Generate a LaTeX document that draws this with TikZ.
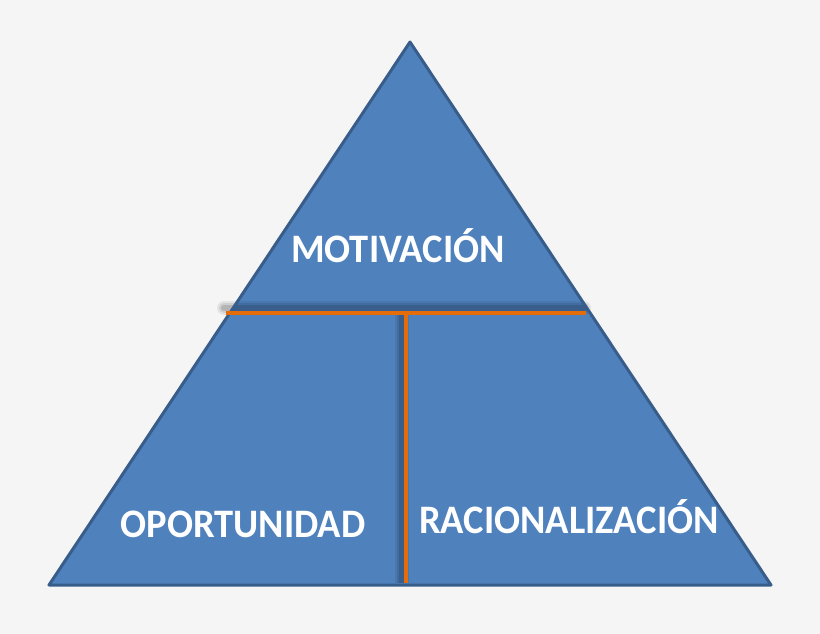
\documentclass[tikz,border=0pt]{standalone}
\usepackage{fontspec}
\setmainfont{Carlito}
\definecolor{bg}{HTML}{F5F5F5}
\definecolor{tfill}{HTML}{4F81BD}
\definecolor{tline}{HTML}{385D8A}
\definecolor{orng}{HTML}{E46C0A}
\tikzset{
  lbl/.style={text=white, font=\fontsize{38.5}{42}\selectfont\bfseries, anchor=base, inner sep=0pt, yscale=1.05},
  divider/.style={draw=orng, line width=4.5pt},
  shade/.style={draw=black, line cap=round}
}
\begin{document}
\begin{tikzpicture}[x=1pt,y=-1pt]
\useasboundingbox[fill=bg] (0,0) rectangle (820,634);
\coordinate (apex) at (410,42);
\coordinate (bl) at (49,585);
\coordinate (br) at (771,585);
\fill[tfill] (apex) -- (br) -- (bl) -- cycle;
% shadows
\coordinate (hl) at (226,313);
\coordinate (hr) at (586,313);
\coordinate (vt) at (406,313);
\coordinate (vb) at (406,583);
\begin{scope}
\clip (0,0) rectangle (820,634);
\foreach \o/\w in {0.07/14, 0.09/10, 0.12/6} {
  \draw[shade, opacity=\o, line width=\w pt] ([shift={(-2,-5)}]hl) -- ([shift={(-2,-5)}]hr);
  \draw[shade, opacity=\o, line width=\w pt, line cap=butt] ([shift={(-4,0)}]vt) -- ([shift={(-4,0)}]vb);
}
\end{scope}
\draw[tline, line width=3pt, line join=round] (apex) -- (br) -- (bl) -- cycle;
\draw[divider] (hl) -- (hr);
\draw[divider] (vt) -- (vb);
\node[lbl] (mot) at (398,262) {MOTIVACIÓN};
\node[lbl] (opo) at (243,537) {OPORTUNIDAD};
\node[lbl] (rac) at (569,533) {RACIONALIZACIÓN};
\end{tikzpicture}
\end{document}
